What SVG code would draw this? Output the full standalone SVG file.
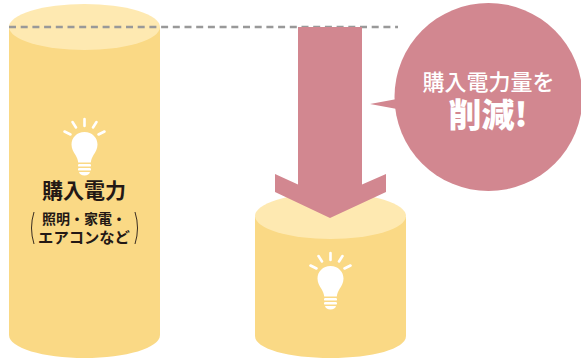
<svg xmlns="http://www.w3.org/2000/svg" width="581" height="358" viewBox="0 0 581 358">
<style>
.body{fill:#fad985}
.top{fill:#fee9b1}
.pink{fill:#d28790}
.bulb{fill:#fff}
.ray{stroke:#fff;stroke-width:2.600;stroke-linecap:round;fill:none}
.dash{stroke:#999;stroke-width:2.500;stroke-dasharray:7 4.700;fill:none}
text{font-family:"Noto Sans CJK JP","Noto Sans",sans-serif;text-anchor:middle}
.dark{fill:#231815}
.w{fill:#fff}
.paren{stroke:#231815;stroke-width:.9;fill:none}
</style>
<defs>
<g id="bulb">
<path class="ray" d="M0 -24V-17M-12 -21L-8.500 -15.500M12 -21L8.500 -15.500M-20 -11.500L-14 -8.500M20 -11.500L14 -8.500"/>
<path class="bulb" d="M0 -11C7.500 -11 13 -5.500 13 1.500C13 6 11 9 9 12C7.500 14.500 6.500 17 6.300 19.500H-6.300C-6.500 17 -7.500 14.500 -9 12C-11 9 -13 6 -13 1.500C-13 -5.500 -7.500 -11 0 -11Z"/>
<rect class="bulb" x="-6.500" y="21" width="13" height="2.600" rx="1.200"/>
<rect class="bulb" x="-6.500" y="25" width="13" height="2.600" rx="1.200"/>
<path class="bulb" d="M-5.500 29H5.500C5 31 3 32.500 0 32.500C-3 32.500 -5 31 -5.500 29Z"/>
</g>
</defs>
<g id="cylinder-left">
<path class="body" d="M9 27H160V335C160 348 126 358 84.500 358C43 358 9 348 9 335Z"/>
<ellipse class="top" cx="84.500" cy="27" rx="75.500" ry="23"/>
<use href="#bulb" x="84.500" y="143"/>
<text class="dark" x="84" y="198" font-size="21" font-weight="700">購入電力</text>
<text class="dark" x="84" y="223.500" font-size="14" font-weight="700">照明・家電・</text>
<text class="dark" x="84" y="243" font-size="15.300" font-weight="700">エアコンなど</text>
<path class="paren" d="M34 212Q29 228 34 244M135 212Q140 228 135 244"/>
</g>
<g id="cylinder-right">
<path class="body" d="M255 217H406V336C406 349 372 358 330.500 358C289 358 255 349 255 336Z"/>
<ellipse class="top" cx="330.500" cy="216" rx="75.500" ry="23"/>
<use href="#bulb" x="330.500" y="277"/>
</g>
<g id="connectors">
<path class="dash" d="M9 27H398"/>
<path id="arrow" class="pink" d="M298 27H362V184.500L386 174V192L330 218L275 192V174L298 184.500Z"/>
</g>
<g id="callout">
<circle class="pink" cx="488.500" cy="97" r="94"/>
<path class="pink" d="M370 104L397 99V109Z"/>
<text class="w" x="488.500" y="90" font-size="22" font-weight="500">購入電力量を</text>
<text class="w" x="488" y="127" font-size="33" font-weight="900">削減!</text>
</g>
</svg>
